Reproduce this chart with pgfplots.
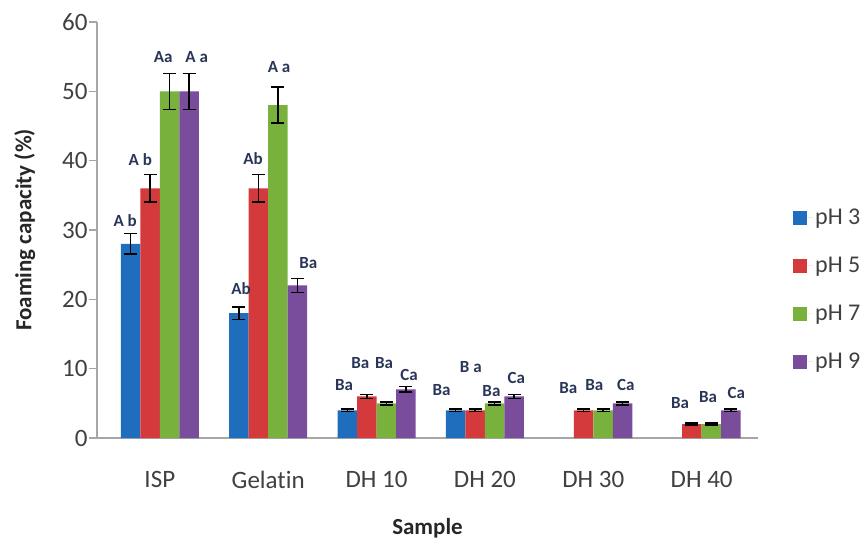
\documentclass[border=0pt]{standalone}
\usepackage{pgfplots}
\pgfplotsset{compat=1.18}
\usepackage{pgfplotstable}
\usepackage{fontspec}
\setmainfont{Carlito}[Ligatures=NoCommon]
\definecolor{cA}{HTML}{1F6EBE}
\definecolor{cB}{HTML}{D43A3C}
\definecolor{cC}{HTML}{78B23C}
\definecolor{cD}{HTML}{7A4C9C}
\definecolor{lab}{HTML}{2A3658}
\definecolor{tk}{HTML}{404040}
\definecolor{ax}{HTML}{A6A6A6}

\pgfplotstableread{
x y e
0 28 1.5
1 18 0.9
2 4 0.2
3 4 0.2
}\phA
\pgfplotstableread{
x y e
0 36 2.0
1 36 2.0
2 6 0.3
3 4 0.2
4 4 0.2
5 2 0.15
}\phB
\pgfplotstableread{
x y e
0 50 2.6
1 48 2.6
2 5 0.2
3 5 0.2
4 4 0.2
5 2 0.15
}\phC
\pgfplotstableread{
x y e
0 50 2.6
1 22 1.0
2 7 0.4
3 6 0.3
4 5 0.2
5 4 0.2
}\phD
\pgfplotstableread[col sep=comma]{
x,y,t
-0.32,31.4,A b
0.75,21.5,Ab
1.70,7.6,Ba
2.60,6.9,Ba
-0.18,40.2,A b
0.86,40.3,Ab
1.85,10.8,Ba
2.87,10.2,B a
3.77,7.2,Ba
4.80,5.0,Ba
0.03,55.0,Aa
1.10,53.5,A a
2.07,10.8,Ba
3.06,6.8,Ba
4.01,7.6,Ba
5.06,5.9,Ba
0.34,55.0,A a
1.37,25.3,Ba
2.30,9.1,Ca
3.29,8.7,Ca
4.30,7.6,Ca
5.32,6.5,Ca
}\labs

\begin{document}
\begin{tikzpicture}
\begin{axis}[
  scale only axis, width=661pt, height=416pt,
  xmin=-0.58, xmax=5.52, ymin=0, ymax=60,
  axis x line*=bottom, axis y line*=left,
  axis line style={ax, line width=1.2pt, -},
  xtick={0,1,2,3,4,5},
  xticklabels={ISP,Gelatin,DH 10,DH 20,DH 30,DH 40},
  x tick style={draw=none},
  ytick={0,10,...,60},
  y tick style={ax, line width=1.2pt},
  tick align=outside, major tick length=8pt,
  /pgf/number format/assume math mode=true,
  tick label style={font=\fontsize{25}{29}\selectfont, text=tk},
  yticklabel style={xshift=2pt},
  xticklabel style={yshift=-22pt},
  ylabel={Foaming capacity (\%)},
  xlabel={Sample},
  label style={font=\bfseries\fontsize{23}{27}\selectfont, text=black!85},
  xlabel style={yshift=-22pt},
  ylabel style={yshift=20pt},
  legend style={draw=none, fill=none, at={(1.053,0.555)}, anchor=north west,
    font=\fontsize{24}{28}\selectfont, text=tk, row sep=27pt, inner sep=0pt},
  legend cell align=left,
]
\pgfplotsset{sq/.style={legend image code/.code={\fill[##1] (0pt,-7pt) rectangle (14pt,7pt); \path (0pt,0pt) -- (20pt,0pt);}},
  eb/.style={mark=none, draw=none, forget plot,
    error bars/.cd, y dir=both, y explicit,
    error bar style={draw=black, line width=1.6pt},
    error mark options={draw=black, rotate=90, line width=1.6pt, mark size=6.5pt}}}
\addplot[ybar, bar width=0.18, bar shift=-0.27, fill=cA, draw=none, sq] table[x=x,y=y] {\phA};
\addlegendentry{pH 3}
\addplot[ybar, bar width=0.18, bar shift=-0.09, fill=cB, draw=none, sq] table[x=x,y=y] {\phB};
\addlegendentry{pH 5}
\addplot[ybar, bar width=0.18, bar shift=0.09, fill=cC, draw=none, sq] table[x=x,y=y] {\phC};
\addlegendentry{pH 7}
\addplot[ybar, bar width=0.18, bar shift=0.27, fill=cD, draw=none, sq] table[x=x,y=y] {\phD};
\addlegendentry{pH 9}
\addplot[eb] table[x expr=\thisrow{x}-0.27, y=y, y error=e] {\phA};
\addplot[eb] table[x expr=\thisrow{x}-0.09, y=y, y error=e] {\phB};
\addplot[eb] table[x expr=\thisrow{x}+0.09, y=y, y error=e] {\phC};
\addplot[eb] table[x expr=\thisrow{x}+0.27, y=y, y error=e] {\phD};
\addplot[mark=none, draw=none, forget plot, nodes near coords, point meta=explicit symbolic,
  nodes near coords style={anchor=center, font=\bfseries\fontsize{17}{19}\selectfont, text=lab, inner sep=0pt}]
  table[x=x,y=y,meta=t] {\labs};
\end{axis}
\pgfresetboundingbox
\path ([xshift=-97pt,yshift=-108pt]current axis.south west) rectangle ([xshift=110pt,yshift=22pt]current axis.north east);
\end{tikzpicture}
\end{document}
